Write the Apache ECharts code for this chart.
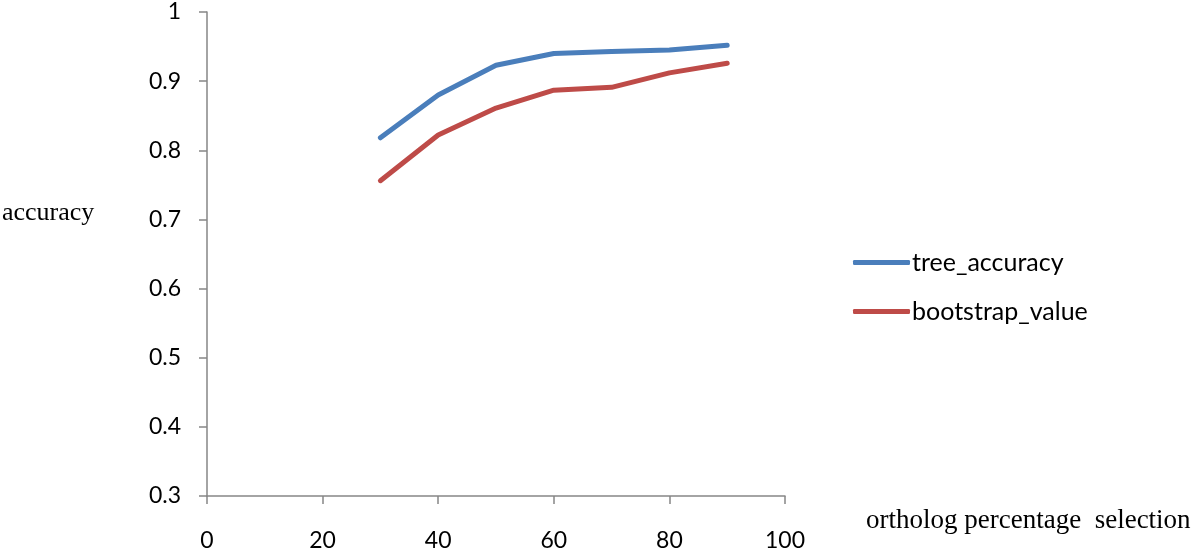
<!DOCTYPE html>
<html><head><meta charset="utf-8">
<script src="https://cdn.jsdelivr.net/npm/echarts@6/dist/echarts.min.js"></script>
<style>html,body{margin:0;padding:0;background:#fff}#c{width:1200px;height:552px}</style>
</head><body><div id="c"></div>
<script>
const xValues = [30, 40, 50, 60, 70, 80, 90];
const treeAccuracy = [0.818, 0.880, 0.923, 0.940, 0.943, 0.945, 0.952];
const bootstrapValue = [0.756, 0.822, 0.861, 0.887, 0.891, 0.912, 0.926];
const seriesNames = ['tree_accuracy', 'bootstrap_value'];
const xTitle = 'ortholog percentage  selection';
const yTitle = 'accuracy';

const chart = echarts.init(document.getElementById('c'));
const font = 'Lato, "Open Sans", sans-serif';
chart.setOption({
  animation: false,
  grid: {left: 207, right: 415, top: 12, bottom: 55},
  xAxis: {
    type: 'value', min: 0, max: 100, interval: 20,
    axisLine: {lineStyle: {color: '#868686', width: 1.5}},
    axisTick: {show: true, inside: false, length: 8, lineStyle: {color: '#868686', width: 1.5}},
    axisLabel: {color: '#000', fontSize: 23, fontFamily: font, margin: 33},
    splitLine: {show: false}
  },
  yAxis: {
    type: 'value', min: 0.3, max: 1, interval: 0.1,
    axisLine: {show: true, lineStyle: {color: '#868686', width: 1.5}},
    axisTick: {show: true, inside: false, length: 8, lineStyle: {color: '#868686', width: 1.5}},
    axisLabel: {color: '#000', fontSize: 23, fontFamily: font, margin: 26,
      formatter: v => (Math.round(v * 10) / 10).toString()},
    splitLine: {show: false}
  },
  legend: {
    orient: 'vertical', left: 848, top: 245, itemGap: 24,
    itemWidth: 57, itemHeight: 5, icon: 'roundRect',
    textStyle: {fontSize: 25, fontFamily: font, color: '#000', padding: [0, 0, 0, -3]},
    data: seriesNames
  },
  graphic: [
    {type: 'text', left: 2, top: 200, style: {text: yTitle, font: '26px "Liberation Serif", "DejaVu Serif", serif', fill: '#000'}},
    {type: 'text', left: 866, top: 507, style: {text: xTitle, font: '27px "Liberation Serif", "DejaVu Serif", serif', fill: '#000'}}
  ],
  series: [
    {name: seriesNames[0], type: 'line', data: xValues.map((x, i) => [x, treeAccuracy[i]]),
     showSymbol: false, lineStyle: {width: 5, color: '#4a7ebb', cap: 'round', join: 'round'}, itemStyle: {color: '#4a7ebb'}},
    {name: seriesNames[1], type: 'line', data: xValues.map((x, i) => [x, bootstrapValue[i]]),
     showSymbol: false, lineStyle: {width: 5, color: '#be4b48', cap: 'round', join: 'round'}, itemStyle: {color: '#be4b48'}}
  ]
});
</script></body></html>
